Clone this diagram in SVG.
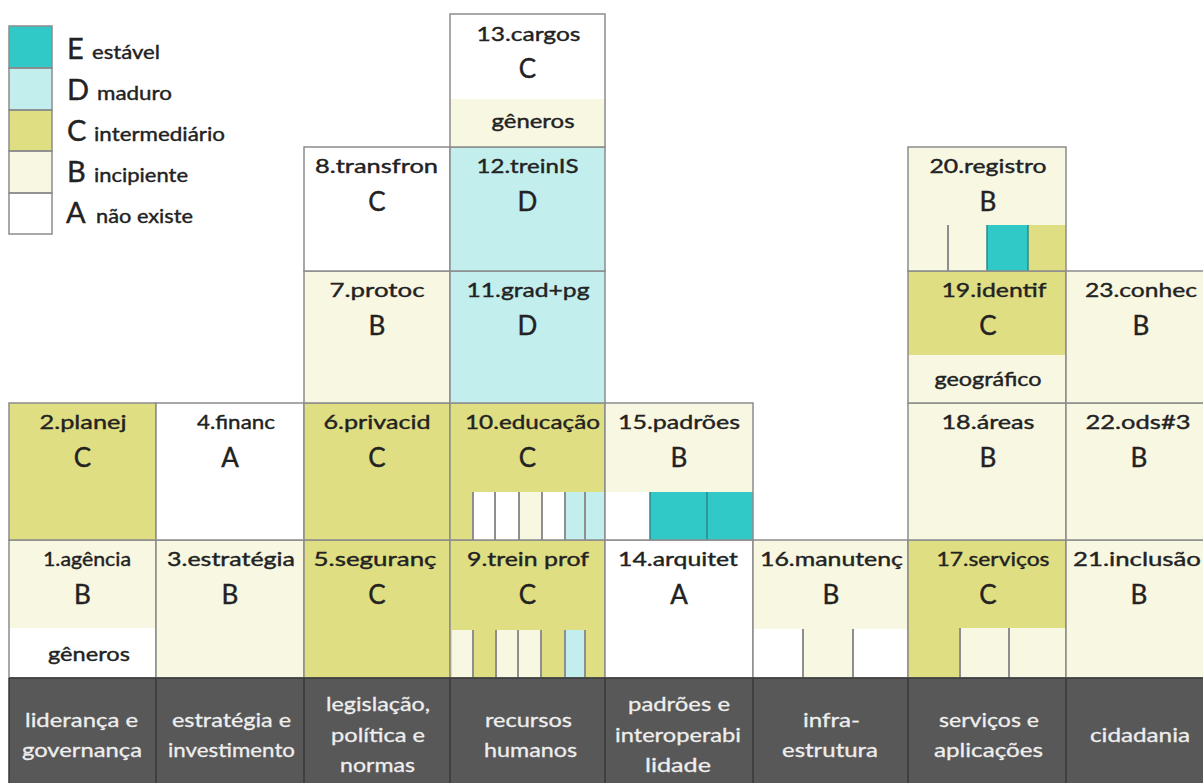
<svg xmlns="http://www.w3.org/2000/svg" width="1203" height="783" viewBox="0 0 1203 783">
  <style>
    .e{fill:#31C8C8}
    .d{fill:#C2EEEE}
    .c{fill:#E0DE82}
    .b{fill:#F8F7E2}
    .a{fill:#FFFFFF}
    .box{fill:none;stroke:#8C8C8C;stroke-width:1.5}
    .sep{stroke:#8E8E8E;stroke-width:2}
    .tsep{stroke:#2A8A8A;stroke-width:1.5}
    text{font-family:Lato,"Open Sans","Liberation Sans",sans-serif;fill:#222222;stroke:#222222;stroke-width:0.4}
    .lbl{font-size:20px;text-anchor:middle}
    .gr{font-size:26px;text-anchor:middle}
    .lg{font-size:29px}
    .lw{font-size:20px}
    .base{fill:#585858}
    .bdiv{stroke:#383838;stroke-width:1.5}
    .bt{font-size:20px;text-anchor:middle;fill:#EEEEEE;stroke:#EEEEEE;stroke-width:0.3}
  </style>

  <!-- legend: maturity levels -->
  <g id="legend">
    <rect class="e" x="9" y="26" width="43" height="42"/>
    <rect class="d" x="9" y="68" width="43" height="42"/>
    <rect class="c" x="9" y="110" width="43" height="41"/>
    <rect class="b" x="9" y="151" width="43" height="42"/>
    <rect class="a" x="9" y="193" width="43" height="41"/>
    <rect class="box" x="9" y="26" width="43" height="42"/>
    <rect class="box" x="9" y="68" width="43" height="42"/>
    <rect class="box" x="9" y="110" width="43" height="41"/>
    <rect class="box" x="9" y="151" width="43" height="42"/>
    <rect class="box" x="9" y="193" width="43" height="41"/>
    <text class="lg" x="67" y="59">E</text>
    <text class="lw" x="92" y="59" textLength="68" lengthAdjust="spacingAndGlyphs">estável</text>
    <text class="lg" x="67" y="100">D</text>
    <text class="lw" x="97" y="100" textLength="75" lengthAdjust="spacingAndGlyphs">maduro</text>
    <text class="lg" x="67" y="141">C</text>
    <text class="lw" x="94" y="141" textLength="131" lengthAdjust="spacingAndGlyphs">intermediário</text>
    <text class="lg" x="67" y="182">B</text>
    <text class="lw" x="94" y="182" textLength="94" lengthAdjust="spacingAndGlyphs">incipiente</text>
    <text class="lg" x="66" y="223">A</text>
    <text class="lw" x="96" y="223" textLength="97" lengthAdjust="spacingAndGlyphs">não existe</text>
  </g>

  <!-- column 1: liderança e governança -->
  <g id="n1">
    <rect class="b" x="9" y="540" width="147" height="138"/>
    <rect class="a" x="9" y="628" width="147" height="50"/>
    <text class="lbl" x="87" y="566" textLength="88" lengthAdjust="spacingAndGlyphs">1.agência</text>
    <text class="gr" x="82.5" y="604">B</text>
    <text class="lbl" x="89" y="661" textLength="82" lengthAdjust="spacingAndGlyphs">gêneros</text>
    <rect class="box" x="9" y="540" width="147" height="138"/>
  </g>
  <g id="n2">
    <rect class="c" x="9" y="403" width="147" height="137"/>
    <text class="lbl" x="83" y="429" textLength="87" lengthAdjust="spacingAndGlyphs">2.planej</text>
    <text class="gr" x="82.5" y="467">C</text>
    <rect class="box" x="9" y="403" width="147" height="137"/>
  </g>

  <!-- column 2: estratégia e investimento -->
  <g id="n3">
    <rect class="b" x="156" y="540" width="148" height="138"/>
    <text class="lbl" x="231" y="566" textLength="128" lengthAdjust="spacingAndGlyphs">3.estratégia</text>
    <text class="gr" x="230" y="604">B</text>
    <rect class="box" x="156" y="540" width="148" height="138"/>
  </g>
  <g id="n4">
    <rect class="a" x="156" y="403" width="148" height="137"/>
    <text class="lbl" x="236" y="429" textLength="78" lengthAdjust="spacingAndGlyphs">4.financ</text>
    <text class="gr" x="230" y="467">A</text>
    <rect class="box" x="156" y="403" width="148" height="137"/>
  </g>

  <!-- column 3: legislação, política e normas -->
  <g id="n5">
    <rect class="c" x="304" y="540" width="146" height="138"/>
    <text class="lbl" x="375" y="566" textLength="123" lengthAdjust="spacingAndGlyphs">5.seguranç</text>
    <text class="gr" x="377" y="604">C</text>
    <rect class="box" x="304" y="540" width="146" height="138"/>
  </g>
  <g id="n6">
    <rect class="c" x="304" y="403" width="146" height="137"/>
    <text class="lbl" x="377" y="429" textLength="107" lengthAdjust="spacingAndGlyphs">6.privacid</text>
    <text class="gr" x="377" y="467">C</text>
    <rect class="box" x="304" y="403" width="146" height="137"/>
  </g>
  <g id="n7">
    <rect class="b" x="304" y="271" width="146" height="132"/>
    <text class="lbl" x="377" y="297" textLength="95" lengthAdjust="spacingAndGlyphs">7.protoc</text>
    <text class="gr" x="377" y="335">B</text>
    <rect class="box" x="304" y="271" width="146" height="132"/>
  </g>
  <g id="n8">
    <rect class="a" x="304" y="147" width="146" height="124"/>
    <text class="lbl" x="376.5" y="173" textLength="123" lengthAdjust="spacingAndGlyphs">8.transfron</text>
    <text class="gr" x="377" y="211">C</text>
    <rect class="box" x="304" y="147" width="146" height="124"/>
  </g>

  <!-- column 4: recursos humanos -->
  <g id="n9">
    <rect class="c" x="450" y="540" width="155" height="138"/>
    <rect class="b" x="452" y="630" width="21" height="48"/>
    <rect class="b" x="496" y="630" width="22" height="48"/>
    <rect class="b" x="518" y="630" width="23" height="48"/>
    <rect class="d" x="565" y="630" width="20" height="48"/>
    <line class="sep" x1="473" y1="630" x2="473" y2="678"/>
    <line class="sep" x1="496" y1="630" x2="496" y2="678"/>
    <line class="sep" x1="518" y1="630" x2="518" y2="678"/>
    <line class="sep" x1="541" y1="630" x2="541" y2="678"/>
    <line class="sep" x1="565" y1="630" x2="565" y2="678"/>
    <line class="sep" x1="585" y1="630" x2="585" y2="678"/>
    <text class="lbl" x="528" y="566" textLength="122" lengthAdjust="spacingAndGlyphs">9.trein prof</text>
    <text class="gr" x="527.5" y="604">C</text>
    <rect class="box" x="450" y="540" width="155" height="138"/>
  </g>
  <g id="n10">
    <rect class="c" x="450" y="403" width="155" height="137"/>
    <rect class="a" x="473" y="492" width="22" height="48"/>
    <rect class="a" x="495" y="492" width="24" height="48"/>
    <rect class="b" x="519" y="492" width="23" height="48"/>
    <rect class="a" x="542" y="492" width="23" height="48"/>
    <rect class="d" x="565" y="492" width="20" height="48"/>
    <rect class="d" x="585" y="492" width="20" height="48"/>
    <line class="sep" x1="473" y1="492" x2="473" y2="540"/>
    <line class="sep" x1="495" y1="492" x2="495" y2="540"/>
    <line class="sep" x1="519" y1="492" x2="519" y2="540"/>
    <line class="sep" x1="542" y1="492" x2="542" y2="540"/>
    <line class="sep" x1="565" y1="492" x2="565" y2="540"/>
    <line class="sep" x1="585" y1="492" x2="585" y2="540"/>
    <text class="lbl" x="532.5" y="429" textLength="135" lengthAdjust="spacingAndGlyphs">10.educação</text>
    <text class="gr" x="527.5" y="467">C</text>
    <rect class="box" x="450" y="403" width="155" height="137"/>
  </g>
  <g id="n11">
    <rect class="d" x="450" y="271" width="155" height="132"/>
    <text class="lbl" x="528" y="297" textLength="123" lengthAdjust="spacingAndGlyphs">11.grad+pg</text>
    <text class="gr" x="527.5" y="335">D</text>
    <rect class="box" x="450" y="271" width="155" height="132"/>
  </g>
  <g id="n12">
    <rect class="d" x="450" y="147" width="155" height="124"/>
    <text class="lbl" x="527.5" y="173" textLength="102" lengthAdjust="spacingAndGlyphs">12.treinIS</text>
    <text class="gr" x="527.5" y="211">D</text>
    <rect class="box" x="450" y="147" width="155" height="124"/>
  </g>
  <g id="n13">
    <rect class="a" x="450" y="14" width="155" height="133"/>
    <rect class="b" x="450" y="99" width="155" height="48"/>
    <text class="lbl" x="528.5" y="41" textLength="104" lengthAdjust="spacingAndGlyphs">13.cargos</text>
    <text class="gr" x="527.5" y="78">C</text>
    <text class="lbl" x="533" y="128" textLength="83" lengthAdjust="spacingAndGlyphs">gêneros</text>
    <rect class="box" x="450" y="14" width="155" height="133"/>
  </g>

  <!-- column 5: padrões e interoperabilidade -->
  <g id="n14">
    <rect class="a" x="605" y="540" width="148" height="138"/>
    <text class="lbl" x="678" y="566" textLength="120" lengthAdjust="spacingAndGlyphs">14.arquitet</text>
    <text class="gr" x="679" y="604">A</text>
    <rect class="box" x="605" y="540" width="148" height="138"/>
  </g>
  <g id="n15">
    <rect class="b" x="605" y="403" width="148" height="137"/>
    <rect class="a" x="605" y="492" width="45" height="48"/>
    <rect class="e" x="650" y="492" width="103" height="48"/>
    <line class="tsep" x1="650" y1="492" x2="650" y2="540"/>
    <line class="tsep" x1="707" y1="492" x2="707" y2="540"/>
    <text class="lbl" x="679" y="429" textLength="122" lengthAdjust="spacingAndGlyphs">15.padrões</text>
    <text class="gr" x="679" y="467">B</text>
    <rect class="box" x="605" y="403" width="148" height="137"/>
  </g>

  <!-- column 6: infra-estrutura -->
  <g id="n16">
    <rect class="b" x="753" y="540" width="155" height="138"/>
    <rect class="a" x="753" y="629" width="50" height="49"/>
    <rect class="a" x="853" y="629" width="55" height="49"/>
    <line class="sep" x1="803" y1="629" x2="803" y2="678"/>
    <line class="sep" x1="853" y1="629" x2="853" y2="678"/>
    <text class="lbl" x="831.5" y="566" textLength="143" lengthAdjust="spacingAndGlyphs">16.manutenç</text>
    <text class="gr" x="831" y="604">B</text>
    <rect class="box" x="753" y="540" width="155" height="138"/>
  </g>

  <!-- column 7: serviços e aplicações -->
  <g id="n17">
    <rect class="c" x="908" y="540" width="158" height="138"/>
    <rect class="b" x="960" y="628" width="106" height="50"/>
    <line class="sep" x1="960" y1="628" x2="960" y2="678"/>
    <line class="sep" x1="1009" y1="628" x2="1009" y2="678"/>
    <text class="lbl" x="993" y="566" textLength="113" lengthAdjust="spacingAndGlyphs">17.serviços</text>
    <text class="gr" x="988" y="604">C</text>
    <rect class="box" x="908" y="540" width="158" height="138"/>
  </g>
  <g id="n18">
    <rect class="b" x="908" y="403" width="158" height="137"/>
    <text class="lbl" x="988" y="429" textLength="93" lengthAdjust="spacingAndGlyphs">18.áreas</text>
    <text class="gr" x="988" y="467">B</text>
    <rect class="box" x="908" y="403" width="158" height="137"/>
  </g>
  <g id="n19">
    <rect class="b" x="908" y="271" width="158" height="132"/>
    <rect class="c" x="908" y="271" width="158" height="84"/>
    <text class="lbl" x="994" y="297" textLength="105" lengthAdjust="spacingAndGlyphs">19.identif</text>
    <text class="gr" x="988" y="335">C</text>
    <text class="lbl" x="988" y="386" textLength="107" lengthAdjust="spacingAndGlyphs">geográfico</text>
    <rect class="box" x="908" y="271" width="158" height="132"/>
  </g>
  <g id="n20">
    <rect class="b" x="908" y="147" width="158" height="124"/>
    <rect class="e" x="987" y="225" width="41" height="46"/>
    <rect class="c" x="1028" y="225" width="38" height="46"/>
    <line class="sep" x1="948" y1="225" x2="948" y2="271"/>
    <line class="tsep" x1="987" y1="225" x2="987" y2="271"/>
    <line class="tsep" x1="1028" y1="225" x2="1028" y2="271"/>
    <text class="lbl" x="988" y="173" textLength="117" lengthAdjust="spacingAndGlyphs">20.registro</text>
    <text class="gr" x="988" y="211">B</text>
    <rect class="box" x="908" y="147" width="158" height="124"/>
  </g>

  <!-- column 8: cidadania -->
  <g id="n21">
    <rect class="b" x="1066" y="540" width="150" height="138"/>
    <text class="lbl" x="1137" y="566" textLength="128" lengthAdjust="spacingAndGlyphs">21.inclusão</text>
    <text class="gr" x="1139" y="604">B</text>
    <rect class="box" x="1066" y="540" width="150" height="138"/>
  </g>
  <g id="n22">
    <rect class="b" x="1066" y="403" width="150" height="137"/>
    <text class="lbl" x="1138" y="429" textLength="105" lengthAdjust="spacingAndGlyphs">22.ods#3</text>
    <text class="gr" x="1139" y="467">B</text>
    <rect class="box" x="1066" y="403" width="150" height="137"/>
  </g>
  <g id="n23">
    <rect class="b" x="1066" y="271" width="150" height="132"/>
    <text class="lbl" x="1141" y="297" textLength="112" lengthAdjust="spacingAndGlyphs">23.conhec</text>
    <text class="gr" x="1141" y="335">B</text>
    <rect class="box" x="1066" y="271" width="150" height="132"/>
  </g>

  <!-- base band: pillar names -->
  <g id="pillars">
    <rect class="base" x="9" y="678" width="1210" height="110"/>
    <line class="bdiv" x1="9" y1="678" x2="9" y2="783"/>
    <line class="bdiv" x1="156" y1="678" x2="156" y2="783"/>
    <line class="bdiv" x1="304" y1="678" x2="304" y2="783"/>
    <line class="bdiv" x1="450" y1="678" x2="450" y2="783"/>
    <line class="bdiv" x1="605" y1="678" x2="605" y2="783"/>
    <line class="bdiv" x1="753" y1="678" x2="753" y2="783"/>
    <line class="bdiv" x1="908" y1="678" x2="908" y2="783"/>
    <line class="bdiv" x1="1066" y1="678" x2="1066" y2="783"/>
    <line class="bdiv" x1="9" y1="678" x2="1203" y2="678"/>
    <text class="bt" x="81.5" y="727" textLength="113" lengthAdjust="spacingAndGlyphs">liderança e</text>
    <text class="bt" x="82" y="757" textLength="120" lengthAdjust="spacingAndGlyphs">governança</text>
    <text class="bt" x="231.5" y="727" textLength="119" lengthAdjust="spacingAndGlyphs">estratégia e</text>
    <text class="bt" x="231.5" y="757" textLength="127" lengthAdjust="spacingAndGlyphs">investimento</text>
    <text class="bt" x="378" y="711" textLength="104" lengthAdjust="spacingAndGlyphs">legislação,</text>
    <text class="bt" x="378" y="742" textLength="94" lengthAdjust="spacingAndGlyphs">política e</text>
    <text class="bt" x="377.5" y="772" textLength="75" lengthAdjust="spacingAndGlyphs">normas</text>
    <text class="bt" x="528.5" y="727" textLength="87" lengthAdjust="spacingAndGlyphs">recursos</text>
    <text class="bt" x="530.5" y="757" textLength="93" lengthAdjust="spacingAndGlyphs">humanos</text>
    <text class="bt" x="679" y="711" textLength="102" lengthAdjust="spacingAndGlyphs">padrões e</text>
    <text class="bt" x="678" y="742" textLength="126" lengthAdjust="spacingAndGlyphs">interoperabi</text>
    <text class="bt" x="678" y="772" textLength="66" lengthAdjust="spacingAndGlyphs">lidade</text>
    <text class="bt" x="831.5" y="727" textLength="57" lengthAdjust="spacingAndGlyphs">infra-</text>
    <text class="bt" x="830" y="757" textLength="96" lengthAdjust="spacingAndGlyphs">estrutura</text>
    <text class="bt" x="989" y="727" textLength="100" lengthAdjust="spacingAndGlyphs">serviços e</text>
    <text class="bt" x="988.5" y="757" textLength="109" lengthAdjust="spacingAndGlyphs">aplicações</text>
    <text class="bt" x="1140" y="742" textLength="100" lengthAdjust="spacingAndGlyphs">cidadania</text>
  </g>
</svg>
